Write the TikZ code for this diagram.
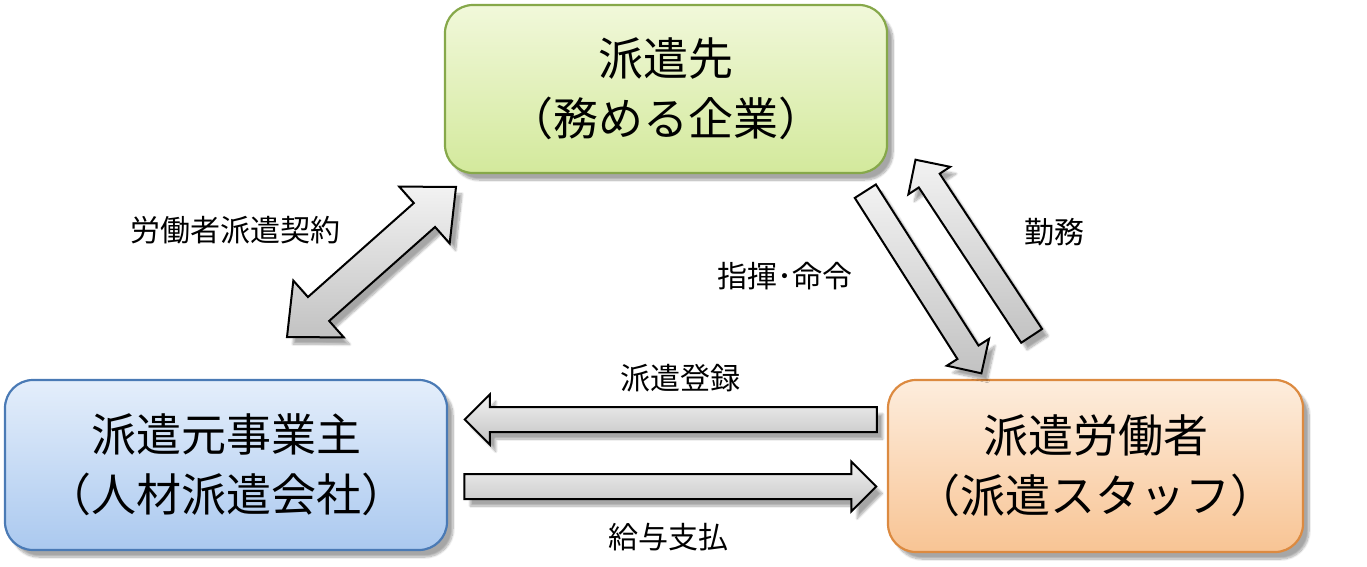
\documentclass[tikz,border=0pt]{standalone}
\usepackage{fontspec}
\setmainfont{Noto Sans CJK JP}
\usetikzlibrary{shapes.arrows,shadows.blur}
\definecolor{grnT}{HTML}{F1F8DA}
\definecolor{grnD}{HTML}{D3E99C}
\definecolor{grnB}{HTML}{86A84A}
\definecolor{bluT}{HTML}{E4EEFB}
\definecolor{bluD}{HTML}{ABC9EF}
\definecolor{bluB}{HTML}{4A7AB5}
\definecolor{orgT}{HTML}{FDEDDD}
\definecolor{orgD}{HTML}{F8C494}
\definecolor{orgB}{HTML}{DC8A40}
\definecolor{arrT}{HTML}{F2F2F2}
\definecolor{arrD}{HTML}{C2C2C2}
\begin{document}
\begin{tikzpicture}[x=1pt,y=-1pt,
  softshadow/.style={blur shadow={shadow xshift=6pt, shadow yshift=-7pt, shadow blur steps=10, shadow opacity=35}},
  box/.style={draw, rounded corners=28pt, line width=2.2pt, align=center, text=black,
    font=\fontsize{45}{60}\selectfont, softshadow},
  greenbox/.style={box, draw=grnB, top color=grnT, bottom color=grnD},
  bluebox/.style={box, draw=bluB, top color=bluT, bottom color=bluD},
  orangebox/.style={box, draw=orgB, top color=orgT, bottom color=orgD},
  blockarrow/.style={draw=black, line width=2pt, top color=arrT, bottom color=arrD,
    inner xsep=0pt, softshadow},
  sarrow/.style={blockarrow, single arrow, inner ysep=11.5pt,
    single arrow head extend=12.5pt, single arrow tip angle=90, minimum height=#1},
  darrow/.style={blockarrow, double arrow, inner ysep=15pt,
    double arrow head extend=22pt, double arrow tip angle=84, minimum height=#1},
  lbl/.style={font=\fontsize{30}{36}\selectfont, text=black}
]
\useasboundingbox (0,0) rectangle (1367,567);

% boxes
\node[greenbox, minimum width=442pt, minimum height=168pt] (haken) at (666,89)
  {派遣先\\（務める企業）};
\node[bluebox, minimum width=442pt, minimum height=170pt] (moto) at (226,465)
  {派遣元事業主\\（人材派遣会社）};
\node[orangebox, minimum width=415pt, minimum height=172pt] (staff) at (1095.5,466)
  {派遣労働者\\（派遣スタッフ）};

% block arrows
\node[darrow=226pt, rotate=41.6] (contract) at (371.5,262) {};
\node[sarrow=216pt, rotate=-57.5] (command) at (920,277) {};
\node[sarrow=211pt, rotate=123.4] (work) at (977,253) {};
\node[sarrow=412pt, shape border rotate=180] (register) at (677,419.5) {};
\node[sarrow=412pt] (pay) at (664,486.5) {};

% labels
\node[lbl] (lcontract) at (235,230) {労働者派遣契約};
\node[lbl] (lcommand) at (785,276) {指揮･命令};
\node[lbl] (lwork) at (1054,232) {勤務};
\node[lbl] (lregister) at (680,378) {派遣登録};
\node[lbl] (lpay) at (668,537) {給与支払};
\end{tikzpicture}
\end{document}
